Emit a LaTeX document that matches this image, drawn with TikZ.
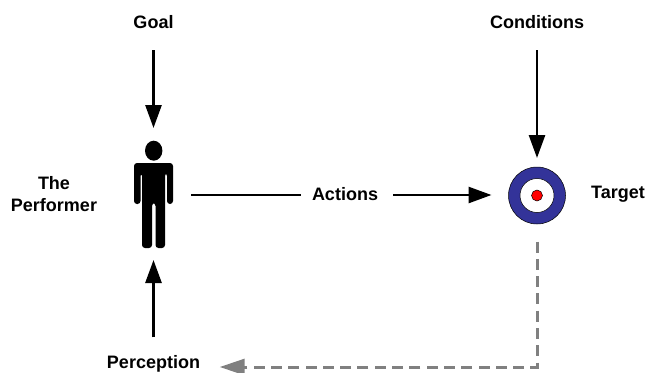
\documentclass[tikz,border=0pt]{standalone}
\usepackage{fontspec}
\setmainfont{Liberation Sans}
\usetikzlibrary{arrows.meta}
\tikzset{
  x=1pt,y=-1pt,
  lbl/.style={font=\fontsize{18}{22.5}\selectfont\bfseries,align=center,inner sep=0pt,text=black},
  conn/.style={line width=2.7pt,-{Triangle[length=23pt,width=16pt]}},
  plain/.style={line width=2.7pt},
  fb/.style={line width=3pt,draw={rgb,255:red,128;green,128;blue,128},dash pattern=on 11pt off 6.3pt,-{Triangle[length=25pt,width=16pt,fill={rgb,255:red,128;green,128;blue,128}]}},
  ringo/.style={circle,draw=black,line width=0.5pt,inner sep=0pt,outer sep=0pt},
}
\begin{document}
\begin{tikzpicture}
\useasboundingbox (0,0) rectangle (647,372);
\node[lbl,anchor=base] (goal) at (153.5,28) {Goal};
\node[lbl,anchor=base] (cond) at (537,28) {Conditions};
\node[lbl,anchor=base] (perf) at (54,211.7) {The\\Performer};
\node[lbl] (act) at (345,194) {Actions};
\node[lbl] (targetlbl) at (618,194.5) {Target};
\node[lbl,anchor=base] (perc) at (153.5,368.2) {Perception};
% performer
\fill[black] (153.7,150.7) ellipse [x radius=8.7,y radius=10];
\fill[black,rounded corners=3pt] (134,163) -- (173,163) -- (173,204) -- (167,204) -- (167,173) -- (165,173) -- (165,248) -- (155.5,248) -- (155.5,203) -- (152,203) -- (152,248) -- (142,248) -- (142,173) -- (140.5,173) -- (140.5,204) -- (134,204) -- cycle;
\node[inner sep=0pt,outer sep=0pt,minimum width=40pt,minimum height=108pt] (person) at (153.5,195) {};
% target
\node[ringo,fill={rgb,255:red,51;green,51;blue,153},minimum size=57pt] (target) at (537,195.5) {};
\node[ringo,fill=white,minimum size=34pt] (ring) at (target) {};
\node[ringo,fill=red,minimum size=11pt] (bull) at (target) {};
\coordinate (corner) at (537,367);
% connectors
\draw[conn,shorten <=22pt,shorten >=13pt] (goal.south) -- (person.north);
\draw[conn,shorten <=22pt,shorten >=9pt] (cond.south) -- (target.north);
\draw[conn,shorten <=17.5pt,shorten >=11pt] (perc.north) -- (person.south);
\draw[plain,shorten <=17.5pt,shorten >=11pt] (person.east) -- (act.west |- person.east);
\draw[conn,shorten <=15pt,shorten >=17pt] (act.east |- person.east) -- (target.west |- person.east);
\draw[fb,shorten <=17.5pt,shorten >=19.5pt] (target.south) -- (corner) -- (perc.east |- corner);
\end{tikzpicture}
\end{document}
